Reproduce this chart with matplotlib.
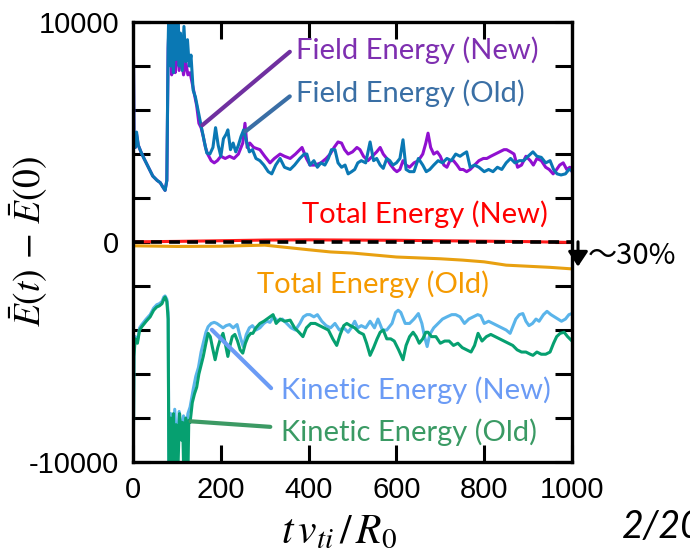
import matplotlib
matplotlib.use('Agg')
import matplotlib.pyplot as plt
from matplotlib.ticker import FixedLocator, FuncFormatter
from matplotlib.patches import FancyArrowPatch

plt.rcParams['font.family'] = ['Liberation Sans', 'DejaVu Sans']
plt.rcParams['mathtext.fontset'] = 'stix'

# ---- data ----
field_old_t = [0, 2, 5, 8, 12, 18, 25, 35, 45, 55, 62, 68, 73, 77, 80, 83, 86, 89, 92, 95, 98, 102, 105, 108,
               112, 116, 120, 124, 128, 132, 137, 142, 148, 153, 157, 162, 168, 175, 182, 188, 194, 200, 206,
               212, 216, 222, 228, 234, 240, 246, 252, 258, 265, 272, 280, 289, 298, 308, 316, 325, 335, 345,
               358, 368, 380, 390, 396, 403, 412, 420, 428, 437, 445, 452, 460, 467, 475, 483, 490, 498, 505,
               512, 520, 530, 540, 548, 555, 563, 570, 578, 585, 592, 600, 608, 615, 622, 630, 640, 650, 660,
               668, 676, 685, 695, 705, 715, 725, 735, 745, 752, 760, 768, 778, 788, 800, 810, 820, 830, 840,
               850, 860, 870, 880, 890, 900, 911, 920, 930, 940, 950, 958, 966, 975, 985, 993, 1000]
field_old = [12000, 5000, 4300, 5000, 4400, 4100, 3800, 3400, 3000, 2800, 2700, 2500, 2350, 2800, 9000, 12000,
             8000, 11000, 7700, 10500, 8300, 11500, 8000, 9500, 7800, 9800, 8200, 9200, 8000, 8500, 6900, 6600,
             6000, 5500, 5100, 4600, 4050, 4000, 4300, 5200, 4400, 3900, 4700, 4900, 5100, 4200, 4500, 4100,
             4400, 4800, 5100, 4600, 4100, 4200, 3800, 3700, 3500, 3200, 3100, 3500, 3800, 3400, 3300, 3500,
             3800, 4000, 4000, 3500, 3700, 3400, 3600, 3500, 3800, 4200, 4200, 3600, 3400, 3500, 3100, 3200,
             3300, 3600, 3700, 3600, 4550, 3700, 3800, 3500, 3350, 3800, 3700, 3500, 3600, 3800, 4650, 3300,
             3200, 3200, 3800, 3500, 3200, 3300, 3500, 3700, 3600, 3800, 3700, 4000, 3900, 4000, 4100, 3400,
             3500, 3400, 3200, 3300, 3200, 3400, 3300, 3600, 3800, 3600, 3700, 3700, 3900, 4100, 3900, 3850,
             3600, 3700, 3300, 3100, 3050, 3100, 3300, 3250]

field_new_t = [0, 2, 5, 8, 12, 18, 25, 35, 45, 55, 62, 68, 73, 77, 80, 84, 88, 92, 96, 100, 105, 110, 115, 120,
               125, 130, 137, 145, 150, 155, 160, 165, 170, 178, 185, 192, 200, 210, 220, 230, 240, 250, 255,
               260, 266, 275, 289, 300, 312, 322, 335, 345, 358, 370, 385, 395, 403, 415, 428, 440, 449, 458,
               467, 475, 482, 490, 500, 510, 517, 525, 535, 545, 555, 563, 570, 578, 587, 595, 601, 608, 615,
               622, 630, 640, 650, 660, 667, 672, 678, 685, 693, 700, 708, 715, 722, 730, 738, 745, 752, 760,
               768, 778, 788, 798, 806, 815, 825, 835, 845, 851, 860, 868, 876, 885, 895, 905, 912, 920, 930,
               940, 948, 957, 965, 972, 980, 988, 995, 1000]
field_new = [12000, 5000, 4300, 4900, 4400, 4100, 3800, 3400, 3000, 2800, 2700, 2500, 2350, 2800, 8800, 11000,
             7600, 9500, 7700, 9000, 7800, 8500, 7600, 8200, 7600, 7700, 7000, 6200, 5400, 5200, 4800, 4300,
             4000, 3700, 3600, 3700, 3900, 3800, 3900, 3800, 4000, 4500, 5400, 4300, 4500, 4300, 4200, 3900,
             3600, 3800, 4000, 3900, 3800, 4000, 4300, 3800, 3500, 3500, 3600, 3800, 4000, 4300, 4550, 4500,
             4200, 4000, 4100, 4300, 4200, 3900, 3700, 3900, 4100, 4300, 4000, 3800, 3500, 3300, 3200, 3300,
             3700, 3500, 3400, 3600, 3700, 4000, 4500, 4950, 4300, 4000, 4100, 3900, 3500, 3400, 3700, 3700,
             3500, 3300, 3300, 3200, 3300, 3500, 3700, 3800, 3800, 3900, 4000, 4100, 4200, 4200, 4100, 4000,
             3400, 3500, 3900, 3700, 3500, 3800, 3700, 3400, 3300, 3100, 3300, 3500, 3600, 3300, 3400, 3200]

kin_old_t = [0, 2, 5, 10, 15, 20, 30, 39, 47, 54, 60, 66, 70, 73, 77, 80, 82, 86, 89, 92, 95, 98, 102, 106, 110,
             113, 116, 120, 124, 127, 130, 135, 140, 145, 150, 155, 160, 166, 171, 176, 181, 187, 193, 199, 205,
             210, 216, 221, 226, 232, 238, 244, 250, 256, 262, 268, 273, 280, 289, 298, 305, 312, 319, 326, 335,
             345, 358, 368, 378, 387, 395, 405, 415, 425, 435, 445, 455, 464, 472, 480, 487, 495, 505, 515, 525,
             532, 540, 548, 556, 563, 570, 578, 587, 595, 605, 615, 622, 630, 638, 645, 652, 660, 667, 672, 680,
             690, 700, 710, 720, 730, 740, 750, 760, 770, 778, 786, 795, 805, 815, 825, 835, 845, 855, 865, 875,
             885, 895, 905, 911, 920, 930, 940, 950, 958, 965, 973, 982, 990, 1000]
kin_old = [-12000, -5200, -4400, -4600, -4000, -3850, -3600, -3400, -3100, -2950, -2900, -2800, -2600, -2500,
           -2700, -3500, -12000, -8000, -11000, -7800, -11500, -8300, -10500, -7800, -9000, -8200, -11000, -8000,
           -12000, -8100, -8200, -7300, -6900, -6600, -6000, -5600, -5200, -4600, -4150, -4300, -4800, -5350,
           -4800, -4400, -4150, -4600, -5200, -4700, -4300, -4200, -4500, -4900, -5050, -4600, -4300, -4150,
           -4150, -3900, -3700, -3600, -3500, -3400, -3300, -3700, -3500, -3600, -3550, -3900, -4100, -4300,
           -3900, -3700, -3700, -3800, -3900, -4000, -4400, -4700, -4200, -3800, -3700, -3800, -3900, -4100,
           -4200, -4600, -5150, -4800, -4400, -4100, -4000, -4400, -4400, -4500, -4900, -5350, -4700, -4300,
           -4100, -4300, -4600, -4400, -4100, -4100, -4300, -4300, -4600, -4500, -4500, -4700, -4600, -4800,
           -4900, -5000, -4700, -4150, -4500, -4300, -4200, -4300, -4400, -4500, -4600, -4700, -4900, -5000,
           -5000, -5100, -5150, -5000, -5100, -5100, -5000, -4600, -4300, -4150, -4100, -4300, -4500]

kin_new_t = [0, 2, 5, 10, 15, 20, 30, 39, 47, 54, 60, 66, 70, 73, 77, 80, 82, 86, 90, 95, 100, 105, 110, 115,
             120, 125, 130, 137, 143, 149, 155, 160, 166, 171, 178, 185, 191, 198, 205, 212, 220, 228, 237, 244,
             251, 258, 265, 272, 280, 289, 298, 305, 312, 320, 330, 340, 350, 360, 370, 380, 388, 396, 403, 412,
             420, 430, 440, 450, 460, 470, 480, 490, 497, 505, 512, 520, 530, 540, 550, 558, 568, 578, 590, 598,
             604, 610, 620, 630, 640, 650, 658, 664, 670, 676, 685, 695, 705, 715, 726, 735, 745, 755, 765, 775,
             785, 792, 800, 810, 820, 830, 840, 850, 859, 866, 872, 880, 888, 895, 902, 910, 918, 925, 935, 943,
             952, 960, 968, 976, 985, 993, 1000]
kin_new = [-12000, -5000, -4300, -4500, -3900, -3750, -3500, -3300, -3000, -2850, -2800, -2700, -2500, -2450,
           -2600, -3200, -11000, -7800, -10000, -7600, -9500, -7700, -8800, -7900, -8600, -7800, -7500, -6700,
           -6100, -5700, -5000, -4600, -4100, -3850, -3700, -3650, -3700, -3800, -3900, -3800, -3750, -3900,
           -3750, -4300, -4750, -4200, -3900, -3800, -4000, -3900, -3700, -3600, -3650, -3400, -3600, -3500,
           -3700, -3900, -4000, -3700, -3400, -3300, -3300, -3400, -3300, -3600, -3800, -3900, -3700, -4000,
           -3900, -4100, -3900, -3600, -3900, -3800, -3900, -3600, -3900, -3500, -4000, -4000, -3700, -3200,
           -3100, -3200, -3700, -3700, -3500, -3250, -3700, -4300, -4750, -4200, -3900, -3700, -3500, -3400,
           -3300, -3300, -3400, -3700, -3500, -3400, -3300, -3350, -3700, -3600, -3700, -3800, -3900, -4000,
           -4150, -3800, -3500, -3300, -3250, -3600, -3800, -3700, -3500, -3600, -3300, -3150, -3300, -3400,
           -3500, -3600, -3500, -3300, -3250]

tot_new_t = [0, 100, 200, 300, 400, 500, 600, 700, 800, 900, 1000]
tot_new = [10, 30, 60, 90, 100, 90, 80, 60, 40, 20, -20]

tot_old_t = [0, 100, 200, 300, 400, 450, 500, 600, 700, 750, 800, 850, 900, 950, 1000]
tot_old = [-170, -200, -190, -140, -350, -450, -500, -680, -760, -820, -900, -1050, -1100, -1150, -1220]

x_ticks = [0, 200, 400, 600, 800, 1000]
y_ticks = list(range(-10000, 10001, 2000))
y_labeled = [-10000, 0, 10000]

# ---- figure ----
fig = plt.figure(figsize=(6.9, 5.52), dpi=100)
ax = fig.add_axes([0.1928, 0.163, 0.6362, 0.797])

ax.plot(tot_old_t, tot_old, color='#e8a010', lw=2.2, zorder=2)
ax.plot(tot_new_t, tot_new, color='#ff1a1a', lw=2.2, zorder=2)
ax.axhline(0, color='black', ls=(0, (3, 2)), lw=2.6, zorder=3)

ax.plot(field_new_t, field_new, color='#9010d0', lw=2.2, zorder=2)
ax.plot(field_old_t, field_old, color='#0a78b4', lw=2.2, zorder=2)
ax.plot(kin_new_t, kin_new, color='#5ab4ea', lw=2.2, zorder=2)
ax.plot(kin_old_t, kin_old, color='#06a070', lw=2.2, zorder=2)

ax.set_xlim(0, 1000)
ax.set_ylim(-10000, 10000)
ax.xaxis.set_major_locator(FixedLocator(x_ticks))
ax.yaxis.set_major_locator(FixedLocator(y_ticks))
ax.yaxis.set_major_formatter(FuncFormatter(lambda v, p: f'{int(v)}' if int(v) in y_labeled else ''))
ax.tick_params(direction='in', length=12, width=2.2, labelsize=21, top=True, right=True, pad=10)
for s in ax.spines.values():
    s.set_linewidth(2.4)

ax.set_xlabel(r'$t\,v_{ti}\,/\,R_0$', fontsize=30)
ax.xaxis.set_label_coords(0.47, -0.115)
ax.set_ylabel(r'$\bar{E}(t)\,-\,\bar{E}(0)$', fontsize=27)
ax.yaxis.set_label_coords(-0.19, 0.5)

# ---- annotations ----
lab_font = dict(family=['Lato', 'DejaVu Sans'], fontsize=21, va='center', ha='left')
ax.annotate('', xy=(153, 5230), xytext=(362, 8730),
            arrowprops=dict(arrowstyle='-', color='#7030a0', lw=3))
ax.annotate('', xy=(251, 4950), xytext=(362, 6700),
            arrowprops=dict(arrowstyle='-', color='#3a6ea5', lw=3))
ax.annotate('', xy=(175, -3900), xytext=(319, -6730),
            arrowprops=dict(arrowstyle='-', color='#6b9bf5', lw=3))
ax.annotate('', xy=(125, -8140), xytext=(319, -8410),
            arrowprops=dict(arrowstyle='-', color='#3c9a64', lw=3))

ax.text(372, 8730, 'Field Energy (New)', color='#7e2fb0', **lab_font)
ax.text(372, 6770, 'Field Energy (Old)', color='#3a6fa5', **lab_font)
ax.text(385, 1250, 'Total Energy (New)', color='#ff0000', **lab_font)
ax.text(283, -1900, 'Total Energy (Old)', color='#f59a00', **lab_font)
ax.text(337, -6750, 'Kinetic Energy (New)', color='#6b9bf5', **lab_font)
ax.text(337, -8650, 'Kinetic Energy (Old)', color='#3a9a64', **lab_font)

# ~30% drop marker to the right of the axes
fig.patches.append(FancyArrowPatch((0.8377, 0.567), (0.8377, 0.512), transform=fig.transFigure,
                                   arrowstyle='-|>,head_length=0.45,head_width=0.3',
                                   mutation_scale=20, color='black', lw=2.2))
fig.text(0.852, 0.537, '～30%', fontsize=21, va='center', ha='left',
         family=['Noto Sans CJK JP', 'DejaVu Sans'])
fig.text(0.902, 0.045, '2/20', fontsize=27, style='italic', va='center', ha='left',
         family=['Lato', 'DejaVu Sans'])

fig.savefig('out.png', dpi=100)
